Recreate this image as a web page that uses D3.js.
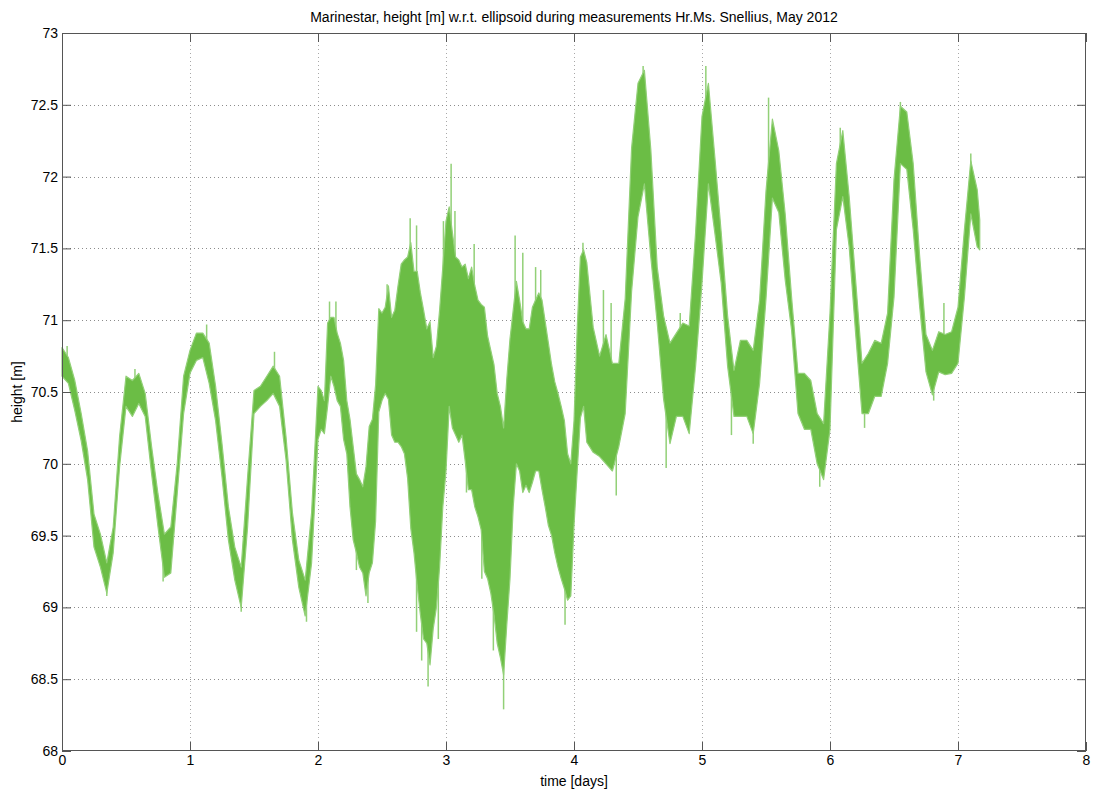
<!DOCTYPE html>
<html>
<head>
<meta charset="utf-8">
<script src="https://cdn.jsdelivr.net/npm/d3@7"></script>
<style>
	body { margin: 0; background: #fff; }
	svg { display: block; font-family: "Liberation Sans", Arial, sans-serif; }
</style>
</head>
<body>
<div class="svg-container"></div>
<script>
(function () {

	"use strict";

	// chart data (envelope of the noisy height record)
	// sampled every 0.05 day, every 0.025 day in the noisy stretch from day 2 to 4
	var time_days = [
		0.00, 0.05, 0.10, 0.15, 0.20, 0.25, 0.30, 0.35, 0.40, 0.45,
		0.50, 0.55, 0.60, 0.65, 0.70, 0.75, 0.80, 0.85, 0.90, 0.95,
		1.00, 1.05, 1.10, 1.15, 1.20, 1.25, 1.30, 1.35, 1.40, 1.45,
		1.50, 1.55, 1.60, 1.65, 1.70, 1.75, 1.80, 1.85, 1.90, 1.95,
		2.000, 2.025, 2.050, 2.075, 2.100, 2.125, 2.150, 2.175, 2.200, 2.225,
		2.250, 2.275, 2.300, 2.325, 2.350, 2.375, 2.400, 2.425, 2.450, 2.475,
		2.500, 2.525, 2.550, 2.575, 2.600, 2.625, 2.650, 2.675, 2.700, 2.725,
		2.750, 2.775, 2.800, 2.825, 2.850, 2.875, 2.900, 2.925, 2.950, 2.975,
		3.000, 3.025, 3.050, 3.075, 3.100, 3.125, 3.150, 3.175, 3.200, 3.225,
		3.250, 3.275, 3.300, 3.325, 3.350, 3.375, 3.400, 3.425, 3.450, 3.475,
		3.500, 3.525, 3.550, 3.575, 3.600, 3.625, 3.650, 3.675, 3.700, 3.725,
		3.750, 3.775, 3.800, 3.825, 3.850, 3.875, 3.900, 3.925, 3.950, 3.975,
		4.000, 4.025, 4.050, 4.075,
		4.10, 4.15, 4.20, 4.25, 4.30, 4.35, 4.40, 4.45,
		4.50, 4.55, 4.60, 4.65, 4.70, 4.75, 4.80, 4.85, 4.90, 4.95,
		5.00, 5.05, 5.10, 5.15, 5.20, 5.25, 5.30, 5.35, 5.40, 5.45,
		5.50, 5.55, 5.60, 5.65, 5.70, 5.75, 5.80, 5.85, 5.90, 5.95,
		6.00, 6.05, 6.10, 6.15, 6.20, 6.25, 6.30, 6.35, 6.40, 6.45,
		6.50, 6.55, 6.60, 6.65, 6.70, 6.75, 6.80, 6.85, 6.90, 6.95,
		7.00, 7.05, 7.10, 7.15, 7.17
	];

	var height_max = [
		70.81, 70.74, 70.58, 70.35, 70.09, 69.65, 69.51, 69.31, 69.56, 70.19,
		70.61, 70.58, 70.63, 70.49, 70.12, 69.79, 69.51, 69.56, 70.00, 70.61,
		70.79, 70.91, 70.91, 70.84, 70.54, 70.14, 69.70, 69.42, 69.28, 69.91,
		70.51, 70.54, 70.61, 70.68, 70.61, 70.19, 69.66, 69.33, 69.19, 69.66,
		70.54, 70.51, 70.44, 70.98, 71.02, 71.02, 70.91, 70.84, 70.72, 70.44,
		70.31, 70.12, 69.93, 69.89, 69.84, 69.98, 70.26, 70.31, 70.55, 71.08,
		71.05, 71.09, 71.24, 71.02, 71.07, 71.24, 71.39, 71.42, 71.44, 71.54,
		71.34, 71.34, 71.19, 71.07, 70.94, 70.99, 70.74, 70.82, 71.07, 71.37,
		71.69, 71.79, 71.61, 71.44, 71.42, 71.37, 71.39, 71.29, 71.37, 71.24,
		71.14, 71.11, 71.09, 70.89, 70.79, 70.69, 70.49, 70.40, 70.25, 70.59,
		70.87, 71.07, 71.27, 71.14, 70.99, 70.94, 70.94, 71.09, 71.14, 71.19,
		71.14, 70.99, 70.84, 70.69, 70.57, 70.49, 70.40, 70.30, 70.07, 70.00,
		70.30, 70.94, 71.44, 71.49,
		71.40, 70.95, 70.75, 70.90, 70.70, 70.70, 71.15, 72.20,
		72.65, 72.74, 72.19, 71.37, 71.03, 70.84, 70.91, 70.98, 70.96, 71.61,
		72.42, 72.65, 72.14, 71.61, 71.03, 70.65, 70.86, 70.86, 70.79, 71.14,
		71.90, 72.40, 72.18, 71.74, 71.16, 70.63, 70.63, 70.58, 70.35, 70.28,
		71.05, 72.09, 72.32, 71.86, 71.28, 70.70, 70.77, 70.86, 70.84, 71.05,
		71.98, 72.49, 72.45, 72.09, 71.45, 70.90, 70.79, 70.92, 70.90, 70.92,
		71.09, 71.63, 72.11, 71.91, 71.70
	];

	var height_min = [
		70.61, 70.56, 70.37, 70.16, 69.89, 69.42, 69.28, 69.10, 69.38, 69.98,
		70.40, 70.33, 70.42, 70.33, 69.93, 69.56, 69.21, 69.24, 69.79, 70.35,
		70.63, 70.72, 70.74, 70.56, 70.30, 69.91, 69.47, 69.19, 69.00, 69.56,
		70.35, 70.40, 70.44, 70.49, 70.40, 70.03, 69.47, 69.14, 68.94, 69.31,
		70.17, 70.24, 70.21, 70.40, 70.61, 70.54, 70.44, 70.40, 70.17, 70.07,
		69.70, 69.47, 69.38, 69.28, 69.24, 69.08, 69.24, 69.31, 69.60, 70.36,
		70.44, 70.49, 70.45, 70.20, 70.15, 70.15, 70.12, 70.07, 69.90, 69.55,
		69.38, 69.15, 68.95, 68.78, 68.75, 68.60, 68.85, 69.00, 69.28, 69.70,
		69.95, 70.40, 70.25, 70.20, 70.15, 70.20, 70.02, 69.82, 69.82, 69.70,
		69.63, 69.54, 69.25, 69.20, 69.10, 68.95, 68.75, 68.65, 68.53, 68.88,
		69.20, 69.70, 70.00, 69.95, 69.80, 69.85, 69.80, 69.87, 69.95, 69.95,
		69.82, 69.70, 69.57, 69.50, 69.38, 69.28, 69.20, 69.13, 69.05, 69.08,
		69.57, 69.95, 70.32, 70.40,
		70.15, 70.08, 70.05, 70.00, 69.95, 70.12, 70.35, 71.20,
		71.72, 71.95, 71.44, 70.98, 70.45, 70.14, 70.33, 70.33, 70.21, 70.68,
		71.26, 71.95, 71.61, 71.26, 70.68, 70.33, 70.33, 70.33, 70.21, 70.56,
		71.15, 71.85, 71.75, 71.28, 70.93, 70.35, 70.24, 70.24, 70.00, 69.89,
		70.24, 71.63, 71.86, 71.51, 70.91, 70.35, 70.35, 70.47, 70.47, 70.70,
		71.16, 72.09, 72.05, 71.63, 71.10, 70.64, 70.48, 70.64, 70.62, 70.63,
		70.70, 71.16, 71.74, 71.51, 71.49
	];

	// single outlying samples that stick out of the band
	var spike_time = [
		0.04, 0.35, 0.57, 0.79, 1.13, 1.40, 1.66, 1.91, 2.09, 2.14,
		2.30, 2.39, 2.54, 2.72, 2.77, 2.77, 2.81, 2.86, 2.94, 2.98,
		3.04, 3.07, 3.16, 3.22, 3.28, 3.37, 3.45, 3.54, 3.60, 3.70,
		3.74, 3.93, 4.07, 4.23, 4.29, 4.33, 4.54, 4.72, 4.83, 5.03,
		5.23, 5.40, 5.52, 5.92, 6.08, 6.27, 6.55, 6.81, 6.89, 7.10
	];

	var spike_value = [
		70.82, 69.08, 70.66, 69.18, 70.97, 68.97, 70.78, 68.90, 71.13, 71.13,
		69.26, 69.03, 71.25, 71.71, 71.66, 68.83, 68.63, 68.45, 68.78, 71.69,
		72.09, 71.76, 69.80, 71.53, 69.20, 68.70, 68.29, 71.59, 71.47, 71.37,
		71.35, 68.88, 71.54, 71.21, 71.12, 69.78, 72.77, 69.97, 71.05, 72.77,
		70.20, 70.14, 72.55, 69.84, 72.34, 70.25, 72.52, 70.44, 71.12, 72.16
	];

	var x_ticks = [0, 1, 2, 3, 4, 5, 6, 7, 8];
	var y_ticks = [68, 68.5, 69, 69.5, 70, 70.5, 71, 71.5, 72, 72.5, 73];

	var title_text = "Marinestar, height [m] w.r.t. ellipsoid during measurements Hr.Ms. Snellius, May 2012",
		x_label = "time [days]",
		y_label = "height [m]";

	// layout
	var container_width = 1094,
		container_height = 794,
		margin = { "top": 33, "right": 8, "bottom": 43, "left": 62 },
		width = container_width - margin.left - margin.right,
		height = container_height - margin.top - margin.bottom,
		tick_length = 9,
		line_colour = "#6bbd45",
		fringe_colour = "#92d077";

	var svg = d3.select(".svg-container").append("svg")
		.attr("width", container_width)
		.attr("height", container_height);

	var g = svg.append("g")
		.attr("transform", "translate(" + margin.left + "," + margin.top + ")");

	var x = d3.scaleLinear().domain([0, 8]).range([0, width]),
		y = d3.scaleLinear().domain([68, 73]).range([height, 0]);

	// dotted grid
	g.append("g")
		.attr("class", "grid")
		.selectAll("line")
		.data(x_ticks.slice(1, -1))
		.enter()
		.append("line")
		.attr("x1", function (d) { return x(d) + 0.5; })
		.attr("x2", function (d) { return x(d) + 0.5; })
		.attr("y1", 0)
		.attr("y2", height)
		.attr("stroke", "#a8a8a8")
		.attr("stroke-dasharray", "1,3");

	g.append("g")
		.attr("class", "grid")
		.selectAll("line")
		.data(y_ticks.slice(1, -1))
		.enter()
		.append("line")
		.attr("x1", 0)
		.attr("x2", width)
		.attr("y1", function (d) { return Math.round(y(d)) + 0.5; })
		.attr("y2", function (d) { return Math.round(y(d)) + 0.5; })
		.attr("stroke", "#8c8c8c")
		.attr("stroke-dasharray", "1,3");

	// the record, drawn as the band between its lower and upper envelope
	var idx = d3.range(time_days.length);

	var band = d3.area()
		.x(function (i) { return x(time_days[i]); })
		.y0(function (i) { return y(height_min[i]); })
		.y1(function (i) { return y(height_max[i]); });

	// spikes start from the nearest envelope sample
	var nearest = function (t) {
		var i = d3.bisectLeft(time_days, t);
		if (i > 0 && (i >= time_days.length || t - time_days[i - 1] < time_days[i] - t)) { i -= 1; }
		return i;
	};

	g.append("g")
		.attr("class", "spikes")
		.selectAll("line")
		.data(d3.range(spike_time.length))
		.enter()
		.append("line")
		.attr("x1", function (i) { return x(spike_time[i]); })
		.attr("x2", function (i) { return x(spike_time[i]); })
		.attr("y1", function (i) {
			var j = nearest(spike_time[i]);
			return y((height_min[j] + height_max[j]) / 2);
		})
		.attr("y2", function (i) { return y(spike_value[i]); })
		.attr("stroke", fringe_colour)
		.attr("stroke-width", 1.5);

	g.append("path")
		.datum(idx)
		.attr("d", band)
		.attr("fill", line_colour)
		.attr("stroke", fringe_colour)
		.attr("stroke-width", 1.2)
		.attr("stroke-linejoin", "round");

	// axes: ticks on all four sides, pointing inward (matlab box)
	var axis_style = function (sel) {
		sel.select(".domain").remove();
		sel.selectAll(".tick line").attr("stroke", "#555");
		sel.selectAll(".tick text")
			.attr("fill", "#000")
			.style("font-size", "14px")
			.style("font-family", "'Liberation Sans', Arial, sans-serif");
	};

	g.append("g")
		.attr("transform", "translate(0," + height + ")")
		.call(d3.axisBottom(x).tickValues(x_ticks).tickFormat(d3.format("d"))
			.tickSizeInner(-tick_length).tickSizeOuter(0).tickPadding(4))
		.call(axis_style);

	g.append("g")
		.call(d3.axisTop(x).tickValues(x_ticks).tickFormat("")
			.tickSizeInner(-tick_length).tickSizeOuter(0))
		.call(axis_style);

	g.append("g")
		.call(d3.axisLeft(y).tickValues(y_ticks).tickFormat(d3.format("~g"))
			.tickSizeInner(-tick_length).tickSizeOuter(0).tickPadding(4))
		.call(axis_style);

	g.append("g")
		.attr("transform", "translate(" + width + ",0)")
		.call(d3.axisRight(y).tickValues(y_ticks).tickFormat("")
			.tickSizeInner(-tick_length).tickSizeOuter(0))
		.call(axis_style);

	// box
	g.append("rect")
		.attr("x", 0.5)
		.attr("y", 0.5)
		.attr("width", width - 1)
		.attr("height", height - 1)
		.attr("fill", "none")
		.attr("stroke", "#555");

	// texts
	svg.append("text")
		.attr("x", margin.left + width / 2)
		.attr("y", 22)
		.attr("text-anchor", "middle")
		.style("font-size", "14px")
		.text(title_text);

	svg.append("text")
		.attr("x", margin.left + width / 2)
		.attr("y", 786)
		.attr("text-anchor", "middle")
		.style("font-size", "14px")
		.text(x_label);

	svg.append("text")
		.attr("transform", "translate(22," + (margin.top + height / 2) + ") rotate(-90)")
		.attr("text-anchor", "middle")
		.style("font-size", "14px")
		.text(y_label);

})();
</script>
</body>
</html>
